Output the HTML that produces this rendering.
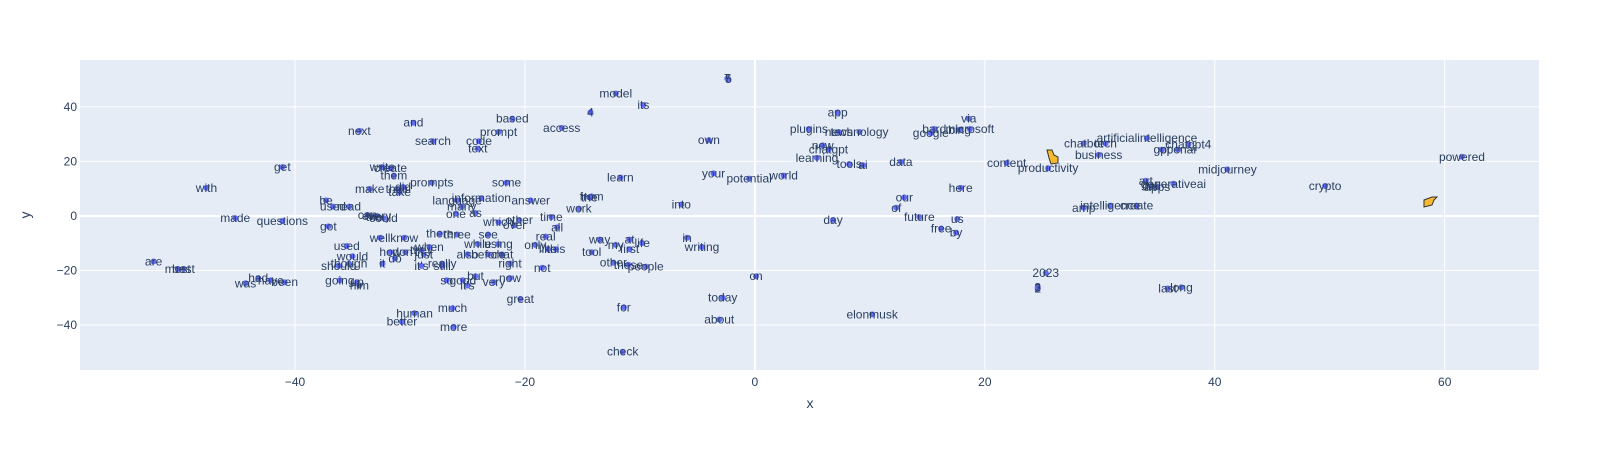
<!DOCTYPE html>
<html><head><meta charset="utf-8"><style>
html,body{margin:0;padding:0;background:#fff;}
svg{display:block;font-family:"Liberation Sans",sans-serif;}
</style></head><body>
<svg id="chart" width="1619" height="450" xmlns="http://www.w3.org/2000/svg">
<rect x="80" y="60" width="1459" height="310" fill="#e5ecf6"/>
<g id="grid"></g><g id="pts"></g><g id="axes"></g>
<text x="810" y="408" text-anchor="middle" font-size="14" fill="#2a3f5f">x</text>
<text x="30" y="215" text-anchor="middle" font-size="14" fill="#2a3f5f" transform="rotate(-90 30 215)">y</text>
<path d="M1047 150 l5 0 l2 5 l4 2 l0 6 l-7 1 l-2 -6 z" fill="#f5b82e" stroke="#333" stroke-width="1"/>
<path d="M1424 200 l8 -3 l5 0 l-3 3 l-2 5 l-8 2 z" fill="#f5b82e" stroke="#333" stroke-width="1"/>
</svg>
<script>
const words=["5","7","model","its","4","app","via","based","and","access","next","plugins","technology","news","bard","microsoft","google","bing","own","search","code","prompt","text","artificialintelligence","chatbot","tech","chatgpt4","openai","gpt","new","chatgpt","learning","tools","ai","data","business","content","productivity","midjourney","powered","get","write","create","them","learn","your","potential","world","with","make","their","take","did","prompts","some","here","crypto","generativeai","art","dall","apps","from","the","information","language","answer","our","into","be","used","read","work","many","one","as","made","questions","can","every","could","the","of","future","us","time","which","over","other","day","got","all","free","by","intelligence","amp","create","in","well","know","there","three","see","way","at","life","my","first","using","while","real","writing","only","like","this","tool","used","also","before","chat","2023","are","best","most","people","these","other","not","right","now","on","had","have","was","been","going","him","up","so","good","but","it's","very","great","today","2","3","last","long","for","much","human","elonmusk","about","better","more","check","would","should","though","don't","how","just","when","still","really","it's","it","do","they"];
const xs=[-2.3,-2.4,-12.1,-9.7,-14.3,7.2,18.6,-21.1,-29.7,-16.8,-34.4,4.7,9.1,7.3,15.6,18.7,15.3,17.8,-4.0,-28.0,-24.0,-22.3,-24.1,34.1,28.6,30.5,37.7,36.8,35.4,5.9,6.4,5.4,8.2,9.4,12.7,29.9,21.9,25.5,41.1,61.5,-41.1,-32.4,-31.7,-31.4,-11.7,-3.6,-0.5,2.5,-47.7,-33.5,-31.1,-30.9,-30.6,-28.1,-21.6,17.9,49.6,36.4,34.0,34.5,35.0,-14.2,-14.4,-23.8,-25.9,-19.5,13.0,-6.4,-37.3,-36.7,-35.3,-15.3,-25.5,-26.0,-24.3,-45.2,-41.1,-33.7,-32.9,-32.3,-33.1,12.3,14.3,17.6,-17.7,-22.3,-20.9,-20.5,6.8,-37.1,-17.2,16.2,17.5,30.9,28.6,33.2,-5.9,-32.6,-30.5,-27.4,-25.9,-23.2,-13.5,-10.9,-9.8,-12.1,-10.9,-22.3,-24.1,-18.2,-4.6,-19.1,-18.0,-17.3,-14.2,-35.5,-25.0,-23.2,-22.0,25.3,-52.3,-49.7,-50.2,-9.5,-11.0,-12.3,-18.5,-21.3,-21.3,0.1,-43.2,-42.1,-44.3,-40.9,-36.1,-34.4,-34.6,-26.8,-25.4,-24.3,-25.0,-22.7,-20.4,-2.8,24.6,24.6,35.9,37.1,-11.4,-26.3,-29.6,10.2,-3.1,-30.7,-26.2,-11.5,-35.0,-36.2,-35.3,-30.4,-31.7,-28.8,-28.3,-27.2,-27.2,-29.0,-32.4,-31.3,-29.0];
const ys=[50.2,50.4,44.9,40.7,38.0,38.0,35.7,35.7,34.2,32.3,31.2,31.9,30.8,30.8,31.9,31.9,30.4,31.6,27.8,27.4,27.4,30.8,24.7,28.5,26.6,26.6,26.2,24.3,24.3,25.9,24.3,21.3,19.0,18.6,19.8,22.4,19.4,17.5,17.1,21.7,17.9,17.9,17.5,14.8,14.1,15.6,13.7,14.8,10.3,9.9,9.9,8.7,10.6,12.2,12.2,10.3,11.0,11.8,12.9,11.0,10.6,7.2,6.8,6.5,5.7,5.7,6.8,4.2,5.7,3.4,3.4,2.7,3.4,0.8,1.1,-0.8,-1.9,0.4,0,-0.8,-0.4,3.0,-0.4,-1.1,-0.4,-2.3,-3.4,-1.5,-1.5,-3.8,-4.2,-4.6,-6.1,3.8,3.0,3.8,-8.0,-8.0,-8.0,-6.5,-6.8,-6.8,-8.7,-8.7,-9.9,-10.6,-12.2,-10.3,-10.3,-7.6,-11.4,-10.6,-12.2,-12.2,-13.3,-11.0,-14.1,-14.1,-14.1,-20.9,-16.7,-19.4,-19.4,-18.6,-17.9,-17.1,-19.0,-17.5,-22.8,-22.1,-22.8,-23.6,-24.7,-24.3,-23.6,-25.5,-24.3,-23.6,-23.6,-22.1,-25.5,-24.3,-30.4,-30.0,-26.6,-26.2,-26.6,-26.2,-33.5,-33.8,-35.7,-36.1,-38.0,-38.8,-40.7,-49.8,-14.8,-18.3,-17.5,-13.3,-13.3,-14.1,-11.4,-18.3,-17.5,-18.3,-17.5,-15.6,-12.5];
const xTicks=[-40,-20,0,20,40,60];
const yTicks=[-40,-20,0,20,40];
const X0=80,X1=1539,Y0=60,Y1=370,XMIN=-58.7,XMAX=68.2,YMIN=-56.5,YMAX=57.2;
function sx(v){return X0+(v-XMIN)/(XMAX-XMIN)*(X1-X0);}
function sy(v){return Y1-(v-YMIN)/(YMAX-YMIN)*(Y1-Y0);}
const NS="http://www.w3.org/2000/svg";
function mk(t,a){const e=document.createElementNS(NS,t);for(const k in a)e.setAttribute(k,a[k]);return e;}
const grid=document.getElementById('grid'),axes=document.getElementById('axes'),pts=document.getElementById('pts');
xTicks.forEach(t=>{
  const l=mk('line',{x1:sx(t),x2:sx(t),y1:Y0,y2:Y1,stroke:'#fff','stroke-width':t===0?2:1});
  
  
  grid.appendChild(l);
  const tx=mk('text',{x:sx(t),y:386,'text-anchor':'middle','font-size':12,fill:'#2a3f5f'});
  tx.textContent=t<0?'\u2212'+(-t):String(t);
  
  
  axes.appendChild(tx);
});
yTicks.forEach(t=>{
  const l=mk('line',{x1:X0,x2:X1,y1:sy(t),y2:sy(t),stroke:'#fff','stroke-width':t===0?2:1});
  
  
  grid.appendChild(l);
  const tx=mk('text',{x:X0-3,y:sy(t)+4,'text-anchor':'end','font-size':12,fill:'#2a3f5f'});
  tx.textContent=t<0?'\u2212'+(-t):String(t);
  
  
  axes.appendChild(tx);
});
words.forEach((w,i)=>{
  const c=mk('circle',{cx:sx(xs[i]),cy:sy(ys[i]),r:3,fill:'#636efa'});
  
  
  pts.appendChild(c);
});
words.forEach((w,i)=>{
  const t=mk('text',{x:sx(xs[i]),y:sy(ys[i])+4,'text-anchor':'middle','font-size':12,fill:'#2a3f5f'});
  t.textContent=w;
  
  
  pts.appendChild(t);
});
</script>
</body></html>
